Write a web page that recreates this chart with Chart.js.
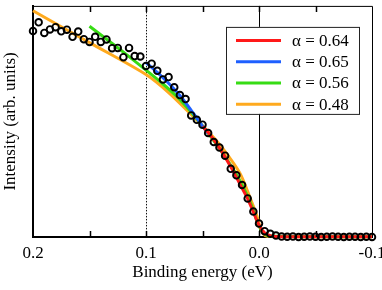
<!DOCTYPE html>
<html>
<head>
<meta charset="utf-8">
<script src="https://cdn.jsdelivr.net/npm/chart.js@4"></script>
<style>
  html, body { margin: 0; padding: 0; background: #fff; }
  #wrap { width: 382px; height: 290px; }
</style>
</head>
<body>
<div id="wrap"><canvas id="chart" width="382" height="290"></canvas></div>
<script>
// measured spectrum (open circles)
const energy = [
  0.200, 0.195, 0.190, 0.185, 0.180, 0.175, 0.170, 0.165, 0.160, 0.155,
  0.150, 0.145, 0.140, 0.135, 0.130, 0.125, 0.120, 0.115, 0.110, 0.105,
  0.100, 0.095, 0.090, 0.085, 0.080, 0.075, 0.070, 0.065, 0.060, 0.055,
  0.050, 0.045, 0.040, 0.035, 0.030, 0.025, 0.020, 0.015, 0.010, 0.005,
  0.000, -0.005, -0.010, -0.015, -0.020, -0.025, -0.030, -0.035, -0.040, -0.045,
  -0.050, -0.055, -0.060, -0.065, -0.070, -0.075, -0.080, -0.085, -0.090, -0.095, -0.100
];
const intensity = [
  0.891, 0.929, 0.883, 0.898, 0.908, 0.890, 0.897, 0.866, 0.889, 0.856,
  0.844, 0.866, 0.844, 0.855, 0.817, 0.818, 0.778, 0.818, 0.783, 0.781,
  0.740, 0.750, 0.719, 0.682, 0.692, 0.648, 0.614, 0.597, 0.526, 0.507,
  0.486, 0.450, 0.411, 0.387, 0.352, 0.295, 0.267, 0.225, 0.167, 0.110,
  0.058, 0.025, 0.014, 0.006, 0.002, 0.001, 0.002, 0.000, 0.001, 0.002,
  0.001, 0.000, 0.001, 0.002, 0.001, 0.000, 0.001, 0.001, 0.000, 0.001, 0.000
];

// fitted curves
const fitLabels = ['α = 0.64', 'α = 0.65', 'α = 0.56', 'α = 0.48'];
const fitColors = ['rgb(255,25,25)', 'rgb(30,95,255)', 'rgb(55,220,20)', 'rgb(255,170,30)'];

const redE = [0.050, 0.045, 0.040, 0.032, 0.024, 0.017, 0.010, 0.005, 0.000, -0.005, -0.010, -0.015, -0.020, -0.100];
const redI = [0.478, 0.452, 0.420, 0.362, 0.295, 0.230, 0.165, 0.108, 0.052, 0.018, 0.006, 0.002, 0.001, 0.001];

const blueE = [0.100, 0.090, 0.080, 0.070, 0.060, 0.050, 0.045];
const blueI = [0.755, 0.712, 0.665, 0.612, 0.548, 0.480, 0.448];

const greenE = [0.150, 0.136, 0.120, 0.100, 0.085, 0.073, 0.060, 0.048, 0.032, 0.017, 0.006, 0.001, -0.004, -0.010, -0.100];
const greenI = [0.912, 0.860, 0.800, 0.722, 0.662, 0.609, 0.540, 0.468, 0.362, 0.245, 0.130, 0.058, 0.018, 0.004, 0.001];

const orangeE = [0.200, 0.150, 0.100, 0.080, 0.060, 0.043, 0.032, 0.017, 0.008, 0.002, -0.001, -0.005, -0.010, -0.100];
const orangeI = [0.979, 0.841, 0.703, 0.625, 0.530, 0.446, 0.383, 0.277, 0.171, 0.093, 0.044, 0.008, 0.002, 0.001];

const xTickValues = [0.2, 0.1, 0.0, -0.1];
const minorTicks = [0.15, 0.1, 0.05, 0.0, -0.05];

const serif = '"Liberation Serif", "Times New Roman", serif';

function pts(xs, ys) {
  return xs.map((x, i) => ({ x: x, y: ys[i] }));
}

function fitSet(idx, xs, ys) {
  return {
    label: fitLabels[idx],
    data: pts(xs, ys),
    borderColor: fitColors[idx],
    backgroundColor: fitColors[idx],
    borderWidth: 3,
    pointRadius: 0,
    showLine: true,
    tension: 0.3,
    clip: false,
    order: idx + 1
  };
}

// frame, ticks, reference lines and legend
const framePlugin = {
  id: 'frame',
  beforeDatasetsDraw(chart) {
    const { ctx, chartArea, scales } = chart;
    const x = scales.x;
    ctx.save();
    // dotted line at 0.1
    ctx.strokeStyle = '#111';
    ctx.lineWidth = 1;
    ctx.setLineDash([1.5, 1.5]);
    let px = Math.round(x.getPixelForValue(0.1)) + 0.5;
    ctx.beginPath();
    ctx.moveTo(px, chartArea.top);
    ctx.lineTo(px, chartArea.bottom);
    ctx.stroke();
    // solid line at 0.0
    ctx.setLineDash([]);
    ctx.strokeStyle = '#000';
    px = Math.round(x.getPixelForValue(0)) + 0.5;
    ctx.beginPath();
    ctx.moveTo(px, chartArea.top);
    ctx.lineTo(px, chartArea.bottom);
    ctx.stroke();
    ctx.restore();
  },
  afterDraw(chart) {
    const { ctx, chartArea, scales } = chart;
    const x = scales.x;
    ctx.save();
    ctx.strokeStyle = '#000';
    ctx.lineWidth = 1;
    // top + right border
    ctx.beginPath();
    ctx.moveTo(chartArea.left, chartArea.top + 0.5);
    ctx.lineTo(chartArea.right + 0.5, chartArea.top + 0.5);
    ctx.lineTo(chartArea.right + 0.5, chartArea.bottom);
    ctx.stroke();
    // inward ticks
    ctx.lineWidth = 1.5;
    minorTicks.forEach(v => {
      const px = Math.round(x.getPixelForValue(v)) + 0.5;
      ctx.beginPath();
      ctx.moveTo(px, chartArea.bottom);
      ctx.lineTo(px, chartArea.bottom - 6);
      ctx.moveTo(px, chartArea.top);
      ctx.lineTo(px, chartArea.top + 6);
      ctx.stroke();
    });

    // legend box
    const bx = chartArea.right - 146, by = chartArea.top + 21, bw = 133, bh = 87;
    ctx.fillStyle = '#fff';
    ctx.fillRect(bx, by, bw, bh);
    ctx.lineWidth = 1;
    ctx.strokeStyle = '#222';
    ctx.strokeRect(bx + 0.5, by + 0.5, bw, bh);
    ctx.font = '17px ' + serif;
    ctx.textBaseline = 'middle';
    ctx.textAlign = 'left';
    fitLabels.forEach((lab, i) => {
      const ly = by + 13.5 + i * 21.3;
      ctx.strokeStyle = fitColors[i];
      ctx.lineWidth = 3;
      ctx.beginPath();
      ctx.moveTo(bx + 10, ly);
      ctx.lineTo(bx + 55, ly);
      ctx.stroke();
      ctx.fillStyle = '#000';
      ctx.fillText(lab, bx + 66, ly + 1);
    });
    ctx.restore();
  }
};

new Chart(document.getElementById('chart'), {
  type: 'scatter',
  data: {
    datasets: [
      {
        label: 'data',
        data: pts(energy, intensity),
        borderColor: '#000',
        backgroundColor: 'rgba(0,0,0,0)',
        borderWidth: 1.9,
        pointRadius: 3.3,
        showLine: false,
        clip: false,
        order: 0
      },
      fitSet(0, redE, redI),
      fitSet(1, blueE, blueI),
      fitSet(2, greenE, greenI),
      fitSet(3, orangeE, orangeI)
    ]
  },
  options: {
    responsive: false,
    animation: false,
    layout: { padding: { top: 1, right: 10, left: 0, bottom: 0 } },
    plugins: { legend: { display: false }, tooltip: { enabled: false } },
    scales: {
      x: {
        type: 'linear',
        reverse: true,
        min: -0.1,
        max: 0.2,
        afterBuildTicks(scale) {
          scale.ticks = xTickValues.map(v => ({ value: v }));
        },
        afterFit(scale) {
          scale.height = 53;
          scale.paddingLeft = 0;
          scale.paddingRight = 0;
        },
        grid: { display: false, drawTicks: false },
        border: { display: true, color: '#000', width: 2 },
        ticks: {
          color: '#000',
          font: { family: serif, size: 17 },
          padding: 6,
          maxRotation: 0,
          autoSkip: false,
          callback: v => (Math.abs(v) < 1e-9 ? '0.0' : v.toFixed(1))
        },
        title: {
          display: true,
          text: 'Binding energy (eV)',
          color: '#000',
          font: { family: serif, size: 17 },
          padding: { top: 0, bottom: 7 }
        }
      },
      y: {
        min: 0,
        max: 1,
        afterFit(scale) { scale.width = 33; },
        grid: { display: false, drawTicks: false },
        border: { display: true, color: '#000', width: 2 },
        ticks: { display: false },
        title: {
          display: true,
          text: 'Intensity (arb. units)',
          color: '#000',
          font: { family: serif, size: 17 },
          padding: { top: 0, bottom: 0 }
        }
      }
    }
  },
  plugins: [framePlugin]
});
</script>
</body>
</html>
